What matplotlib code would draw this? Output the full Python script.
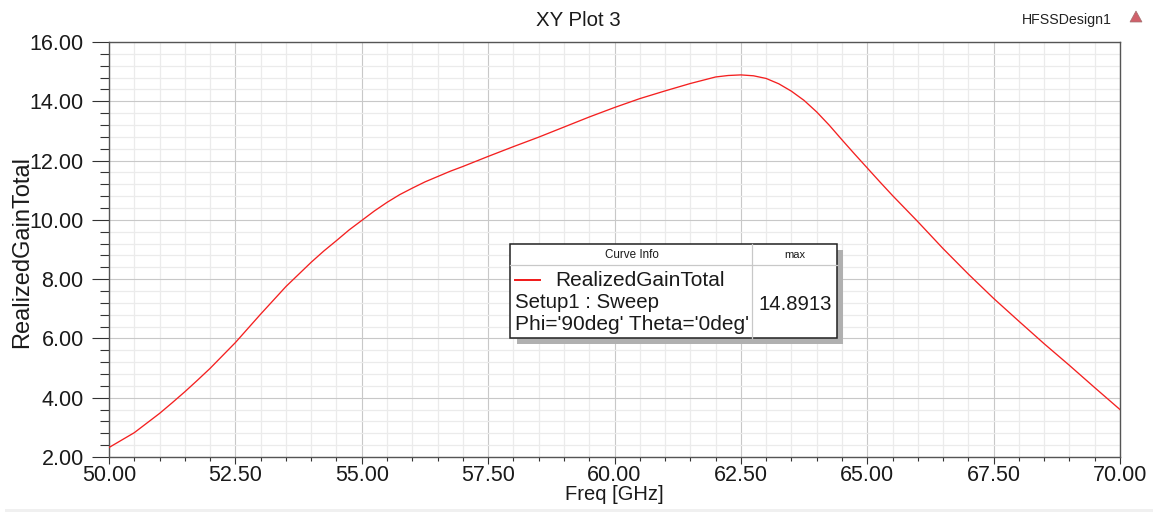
import matplotlib
matplotlib.use("Agg")
import matplotlib.pyplot as plt
from matplotlib.patches import Rectangle, Polygon
from matplotlib.ticker import MultipleLocator, FormatStrFormatter

freq = [50, 50.5, 51, 51.25, 51.5, 51.75, 52, 52.5, 53, 53.5, 54, 54.25, 54.5, 54.75, 55, 55.25, 55.5, 55.75,
        56, 56.25, 56.5, 56.75, 57, 57.5, 58, 58.5, 59, 59.5, 60, 60.5, 61, 61.5, 62, 62.25, 62.5, 62.75,
        63, 63.25, 63.5, 63.75, 64, 64.25, 64.5, 64.75, 65, 65.25, 65.5, 66, 66.5, 67, 67.5, 68, 68.5, 69,
        69.5, 70]
gain = [2.32, 2.82, 3.47, 3.83, 4.20, 4.59, 4.99, 5.86, 6.82, 7.75, 8.57, 8.95, 9.30, 9.66, 9.98, 10.30, 10.59,
        10.85, 11.07, 11.28, 11.46, 11.64, 11.80, 12.14, 12.47, 12.79, 13.13, 13.47, 13.79, 14.09, 14.35, 14.60,
        14.82, 14.87, 14.89, 14.86, 14.77, 14.59, 14.34, 14.03, 13.64, 13.19, 12.70, 12.22, 11.75, 11.28, 10.82,
        9.94, 9.03, 8.17, 7.35, 6.58, 5.82, 5.09, 4.34, 3.60]
title = "XY Plot 3"
design = "HFSSDesign1"
xlabel = "Freq [GHz]"
ylabel = "RealizedGainTotal"
legend_head = ["Curve Info", "max"]
legend_lines = ["RealizedGainTotal", "Setup1 : Sweep", "Phi='90deg' Theta='0deg'"]
legend_max = "14.8913"

W, H = 1153, 512
plt.rcParams['font.family'] = ['Liberation Sans', 'DejaVu Sans']
fig = plt.figure(figsize=(W / 100, H / 100), dpi=100, facecolor='white')
ax = fig.add_axes([109 / W, 1 - 457 / H, (1120 - 109) / W, (457 - 42) / H])
ax.plot(freq, gain, color='#f42020', lw=0.95, zorder=3)
ax.set_xlim(50, 70)
ax.set_ylim(2, 16)
ax.xaxis.set_major_locator(MultipleLocator(2.5))
ax.xaxis.set_minor_locator(MultipleLocator(0.5))
ax.yaxis.set_major_locator(MultipleLocator(2))
ax.yaxis.set_minor_locator(MultipleLocator(0.4))
ax.xaxis.set_major_formatter(FormatStrFormatter('%.2f'))
ax.yaxis.set_major_formatter(FormatStrFormatter('%.2f'))
ax.grid(which='major', color='#c8c8c8', lw=0.8)
ax.grid(which='minor', color='#ebebeb', lw=0.9)
ax.set_axisbelow(True)
for s in ax.spines.values():
    s.set_color('#555555')
    s.set_linewidth(1.0)
ax.tick_params(axis='y', which='major', length=12.2, width=0.8, color='#333333', labelsize=15.5, pad=6, labelcolor='#1a1a1a')
ax.tick_params(axis='y', which='minor', length=6.5, width=0.8, color='#333333')
ax.tick_params(axis='x', which='major', length=5, width=0.8, color='#333333', labelsize=15.5, pad=0.5, labelcolor='#1a1a1a')
ax.tick_params(axis='x', which='minor', length=3, width=0.8, color='#333333')

def px(x, y, s, **k):
    return fig.text(x / W, 1 - y / H, s, **k)

px(578, 20, title, ha='center', va='center', fontsize=14.7, color='#1a1a1a')
px(1067, 20, design, ha='center', va='center', fontsize=10.2, color='#222222')
px(614, 495, xlabel, ha='center', va='center', fontsize=14.5, color='#1a1a1a')
px(22, 252, ylabel, ha='center', va='center', rotation=90, fontsize=17, color='#1a1a1a')

# HFSS logo in the corner
fig.add_artist(Polygon([(1136 / W, 1 - 11 / H), (1130 / W, 1 - 22 / H), (1142 / W, 1 - 22 / H)],
                       closed=True, transform=fig.transFigure, fc='#d0606a', ec='#a07070', lw=0.5))

def rect(x0, y0, x1, y1, **k):
    fig.add_artist(Rectangle((x0 / W, 1 - y1 / H), (x1 - x0) / W, (y1 - y0) / H,
                             transform=fig.transFigure, **k))

def line(x0, y0, x1, y1, **k):
    fig.add_artist(plt.Line2D([x0 / W, x1 / W], [1 - y0 / H, 1 - y1 / H], transform=fig.transFigure, **k))

# Light strip along the bottom edge of the screenshot
rect(5, 509, W, H, fc='#f0f0f0', ec='none', zorder=1)

# Curve-info legend table
rect(517, 250, 843, 344, fc='#b0b0b0', ec='none', zorder=5)
rect(510, 244, 837, 338, fc='white', ec='#222222', lw=1.1, zorder=6)
for seg in [(510, 265, 837, 265), (752, 244, 752, 338)]:
    line(*seg, color='#c8c8c8', lw=0.9, zorder=7)
line(515, 280, 540, 280, color='#f01818', lw=1.4, zorder=8)
tk = dict(zorder=9, color='#1a1a1a', va='center')
px(632, 255, legend_head[0], ha='center', fontsize=8.4, **tk)
px(795, 255, legend_head[1], ha='center', fontsize=8, **tk)
px(555, 280, legend_lines[0], ha='left', fontsize=15, **tk)
px(515, 303, legend_lines[1], ha='left', fontsize=14.7, **tk)
px(515, 325, legend_lines[2], ha='left', fontsize=15, **tk)
px(795, 304, legend_max, ha='center', fontsize=14.6, **tk)

fig.savefig('out.png', dpi=100, facecolor='white')
